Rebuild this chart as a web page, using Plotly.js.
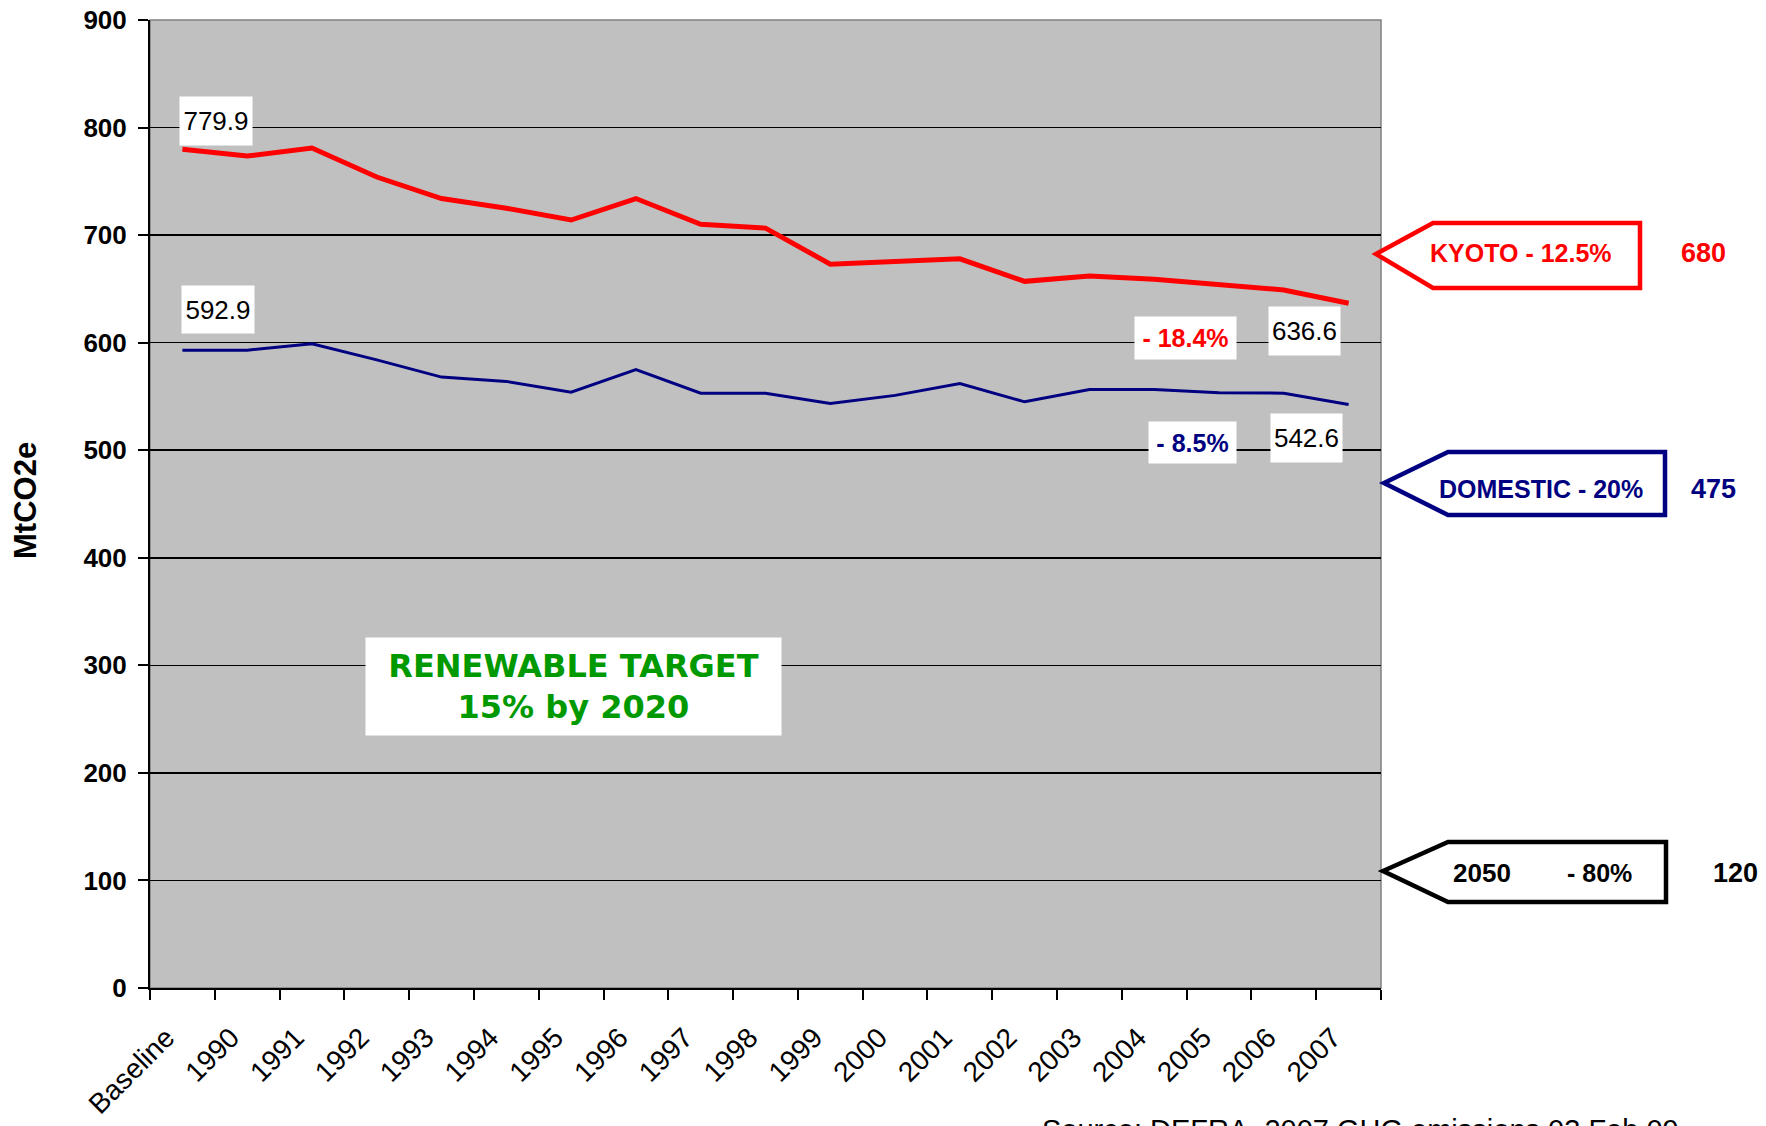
<!DOCTYPE html>
<html><head><meta charset="utf-8">
<script src="https://cdn.plot.ly/plotly-3.0.1.min.js"></script>
<style>html,body{margin:0;padding:0;background:#fff;} #chart{width:1766px;height:1126px;}</style>
</head><body><div id="chart"></div>
<script>
// ---- data ----
const categories = ['Baseline','1990','1991','1992','1993','1994','1995','1996','1997','1998','1999','2000','2001','2002','2003','2004','2005','2006','2007'];
const kyotoBasket = [779.9, 773.5, 781, 754, 734, 725, 714, 734, 710, 706.5, 673, 675, 678, 657, 662, 659, 653.5, 649, 636.6];
const domesticCO2 = [592.9, 593, 599, 584, 568, 564, 554, 575, 553, 553, 543.5, 551, 562, 545, 556.5, 556.5, 553.5, 553, 542.6];
const targetNames = ['KYOTO', 'DOMESTIC', '2050'];
const targetCuts = [12.5, 20, 80];
const targetValues = [680, 475, 120];
const renewableText = ['RENEWABLE TARGET', '15% by 2020'];
const sourceText = 'Source: DEFRA, 2007 GHG emissions 03 Feb 09';
const yTitle = 'MtCO2e';

// ---- geometry helpers (pixel -> paper) ----
const W = 1766, H = 1126, ML = 150, MR = 385, MT = 20, MB = 138;
const PW = W - ML - MR, PH = H - MT - MB;
const px = x => (x - ML) / PW;
const py = y => (H - MB - y) / PH;

const RED = '#FF0000', NAVY = '#000080', GREEN = '#009900';
const NARROW = "'Liberation Sans Narrow','Arial Narrow','Liberation Sans',Arial,sans-serif";
const SANS = "'Liberation Sans',Arial,sans-serif";

function label(text, cx, cy, opts) {
  return Object.assign({
    text: text, xref: 'paper', yref: 'paper', x: px(cx), y: py(cy),
    xanchor: 'center', yanchor: 'middle', showarrow: false,
    font: {family: NARROW, size: 26, color: '#000'}
  }, opts || {});
}
function whiteBox(text, cx, cy, w, h, font) {
  return label(text, cx, cy, {bgcolor: '#fff', width: w, height: h, borderpad: 0, font: font});
}
function arrowPath(tipX, tipY, leftX, rightX, topY, botY) {
  return `M ${px(tipX)},${py(tipY)} L ${px(leftX)},${py(topY)} L ${px(rightX)},${py(topY)} L ${px(rightX)},${py(botY)} L ${px(leftX)},${py(botY)} Z`;
}

const last = categories.length - 1;
const pct = arr => Math.abs((arr[last] - arr[0]) / arr[0] * 100).toFixed(1);

const traces = [
  {x: categories, y: kyotoBasket, type: 'scatter', mode: 'lines', line: {color: RED, width: 5}, hoverinfo: 'skip'},
  {x: categories, y: domesticCO2, type: 'scatter', mode: 'lines', line: {color: NAVY, width: 3}, hoverinfo: 'skip'}
];

const shapes = [
  {type: 'rect', xref: 'paper', yref: 'paper', x0: 0, x1: 1, y0: 0, y1: 1, line: {color: '#808080', width: 1.5}, layer: 'below'},
  {type: 'path', xref: 'paper', yref: 'paper', path: arrowPath(1376, 254, 1433, 1640, 223, 288), fillcolor: '#fff', line: {color: RED, width: 4.5}},
  {type: 'path', xref: 'paper', yref: 'paper', path: arrowPath(1384, 483, 1448, 1665, 452, 515), fillcolor: '#fff', line: {color: NAVY, width: 4.5}},
  {type: 'path', xref: 'paper', yref: 'paper', path: arrowPath(1383, 871, 1448, 1666, 842, 902), fillcolor: '#fff', line: {color: '#000', width: 4.5}}
];

const boldNarrow = (c, s) => ({family: NARROW, size: s, color: c, weight: 'bold'});
const plain = {family: NARROW, size: 26, color: '#000'};

const annotations = [
  whiteBox(kyotoBasket[0].toFixed(1), 216, 121, 72, 48, plain),
  whiteBox(domesticCO2[0].toFixed(1), 218, 309.5, 72, 47, plain),
  whiteBox('- ' + pct(kyotoBasket) + '%', 1185.5, 338, 101, 42, boldNarrow(RED, 25)),
  whiteBox(kyotoBasket[last].toFixed(1), 1304.5, 331, 71, 48, plain),
  whiteBox('- ' + pct(domesticCO2) + '%', 1192.5, 442.5, 87, 41, boldNarrow(NAVY, 25)),
  whiteBox(domesticCO2[last].toFixed(1), 1306.5, 438, 71, 48, plain),
  label(targetNames[0] + ' - ' + targetCuts[0] + '%', 1520.5, 253, {font: boldNarrow(RED, 25)}),
  label(String(targetValues[0]), 1704, 253, {font: boldNarrow(RED, 27)}),
  label(targetNames[1] + ' - ' + targetCuts[1] + '%', 1540.5, 489, {font: boldNarrow(NAVY, 25)}),
  label(String(targetValues[1]), 1713, 489, {font: boldNarrow(NAVY, 27)}),
  label(targetNames[2], 1481.5, 873, {font: boldNarrow('#000', 26)}),
  label('- ' + targetCuts[2] + '%', 1599, 873, {font: boldNarrow('#000', 25)}),
  label(String(targetValues[2]), 1735, 873, {font: boldNarrow('#000', 27)}),
  whiteBox(renewableText.join('<br>'), 573.5, 686.5, 415, 97, {family: "'DejaVu Sans',Verdana,sans-serif", size: 32, color: GREEN, weight: 'bold'}),
  label(yTitle, 25, 501, {textangle: -90, font: {family: SANS, size: 31, color: '#000', weight: 'bold'}}),
  label(sourceText, 1040, 1112, {xanchor: 'left', yanchor: 'top', font: {family: SANS, size: 29, color: '#000'}})
];

const layout = {
  width: W, height: H,
  margin: {l: ML, r: MR, t: MT, b: MB, pad: 0},
  paper_bgcolor: '#fff', plot_bgcolor: '#C0C0C0',
  showlegend: false,
  xaxis: {
    type: 'category', range: [-0.5, last + 0.5], tickson: 'boundaries',
    ticks: 'outside', ticklen: 10, tickwidth: 2, tickcolor: '#000',
    showline: true, linecolor: '#000', linewidth: 2, showgrid: false, zeroline: false,
    tickangle: -45, ticklabelstandoff: 20, ticklabelshift: -16,
    tickfont: {family: SANS, size: 28, color: '#000'}
  },
  yaxis: {
    range: [0, 900], tick0: 0, dtick: 100,
    ticks: 'outside', ticklen: 10, tickwidth: 2, tickcolor: '#000',
    showline: true, linecolor: '#000', linewidth: 2,
    showgrid: true, gridcolor: '#000', gridwidth: 1.5, zeroline: false,
    ticklabelstandoff: 6,
    tickfont: {family: SANS, size: 26, color: '#000', weight: 'bold'}
  },
  shapes: shapes,
  annotations: annotations
};

Plotly.newPlot('chart', traces, layout, {displayModeBar: false, staticPlot: true});
</script>
</body></html>
